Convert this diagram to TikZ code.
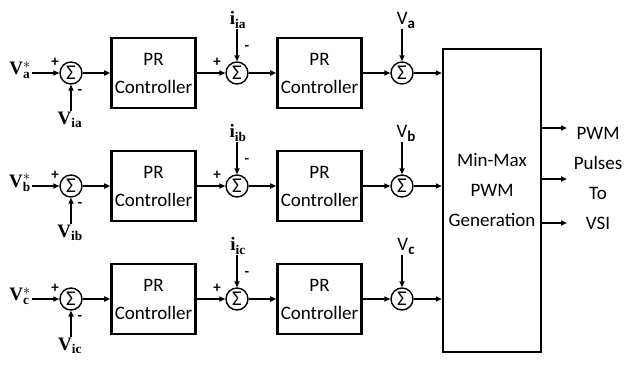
\documentclass[tikz,border=0pt]{standalone}
\usepackage{fontspec}
\setmainfont{Liberation Serif}
\newfontfamily\calib{Carlito}
\usetikzlibrary{arrows.meta}
\newcommand{\vsub}[1]{{\calib V\raisebox{-4pt}{\fontsize{15}{15}\selectfont\bfseries #1}}}

\begin{document}
\begin{tikzpicture}[x=1pt,y=-1pt,
  sum/.style={draw,circle,line width=1.4pt,minimum size=22pt,inner sep=0pt,font=\calib\fontsize{21}{21}\selectfont},
  pr/.style={draw,line width=2.4pt,minimum width=83pt,minimum height=70pt,align=center,font=\calib\fontsize{19}{28}\selectfont},
  mm/.style={draw,line width=2.4pt,minimum width=98pt,minimum height=303pt},
  txt/.style={align=center,font=\calib\fontsize{19}{30}\selectfont},
  sgn/.style={font=\calib\bfseries\fontsize{15}{15}\selectfont,inner sep=0pt},
  lbl/.style={font=\fontsize{19}{19}\selectfont,inner sep=1pt},
  arr/.style={-{Triangle[length=6pt,width=5pt]},line width=1.6pt}]
\useasboundingbox (0,0) rectangle (631,364);
% min-max block
\node[mm] (mm) at (492,200.5) {};
\node[txt] (mmt) at (492,190) {Min-Max\\PWM\\Generation};
% phase a
\node[lbl,anchor=east] (ra) at (32,70) {$\mathbf{V_{a}^{*}}$};
\node[sum] (sa1) at (71,73) {Σ};
\node[lbl] (fa1) at (70,120) {$\mathbf{V_{ia}}$};
\node[pr] (pa1) at (153.5,73) {PR\\Controller};
\node[sum] (sa2) at (237,73) {Σ};
\node[lbl] (fa2) at (238,20) {$\mathbf{i_{ia}}$};
\node[pr] (pa2) at (319.5,73) {PR\\Controller};
\node[sum] (sa3) at (402,73) {Σ};
\node[lbl] (va) at (406,20) {\vsub{a}};
\node[sgn] at (55,62) {+};
\node[sgn] at (80,92) {-};
\node[sgn] at (217,62) {+};
\node[sgn] at (247,48) {-};
\draw[arr] (ra.east |- sa1) -- (sa1);
\draw[arr] (sa1 |- fa1.north) -- (sa1.south);
\draw[arr] (sa1) -- (pa1);
\draw[arr] (pa1) -- (sa2);
\draw[arr] (sa2 |- fa2.south) -- (sa2.north);
\draw[arr] (sa2) -- (pa2);
\draw[arr] (pa2) -- (sa3);
\draw[arr] (sa3 |- va.south) -- (sa3.north);
\draw[arr] (sa3) -- (mm.west |- sa3);
% phase b
\node[lbl,anchor=east] (rb) at (32,183) {$\mathbf{V_{b}^{*}}$};
\node[sum] (sb1) at (71,186) {Σ};
\node[lbl] (fb1) at (70,233) {$\mathbf{V_{ib}}$};
\node[pr] (pb1) at (153.5,186) {PR\\Controller};
\node[sum] (sb2) at (237,186) {Σ};
\node[lbl] (fb2) at (238,133) {$\mathbf{i_{ib}}$};
\node[pr] (pb2) at (319.5,186) {PR\\Controller};
\node[sum] (sb3) at (402,186) {Σ};
\node[lbl] (vb) at (406,133) {\vsub{b}};
\node[sgn] at (55,175) {+};
\node[sgn] at (80,205) {-};
\node[sgn] at (217,175) {+};
\node[sgn] at (247,161) {-};
\draw[arr] (rb.east |- sb1) -- (sb1);
\draw[arr] (sb1 |- fb1.north) -- (sb1.south);
\draw[arr] (sb1) -- (pb1);
\draw[arr] (pb1) -- (sb2);
\draw[arr] (sb2 |- fb2.south) -- (sb2.north);
\draw[arr] (sb2) -- (pb2);
\draw[arr] (pb2) -- (sb3);
\draw[arr] (sb3 |- vb.south) -- (sb3.north);
\draw[arr] (sb3) -- (mm.west |- sb3);
% phase c
\node[lbl,anchor=east] (rc) at (32,296) {$\mathbf{V_{c}^{*}}$};
\node[sum] (sc1) at (71,299) {Σ};
\node[lbl] (fc1) at (70,346) {$\mathbf{V_{ic}}$};
\node[pr] (pc1) at (153.5,299) {PR\\Controller};
\node[sum] (sc2) at (237,299) {Σ};
\node[lbl] (fc2) at (238,246) {$\mathbf{i_{ic}}$};
\node[pr] (pc2) at (319.5,299) {PR\\Controller};
\node[sum] (sc3) at (402,299) {Σ};
\node[lbl] (vc) at (406,246) {\vsub{c}};
\node[sgn] at (55,288) {+};
\node[sgn] at (80,318) {-};
\node[sgn] at (217,288) {+};
\node[sgn] at (247,274) {-};
\draw[arr] (rc.east |- sc1) -- (sc1);
\draw[arr] (sc1 |- fc1.north) -- (sc1.south);
\draw[arr] (sc1) -- (pc1);
\draw[arr] (pc1) -- (sc2);
\draw[arr] (sc2 |- fc2.south) -- (sc2.north);
\draw[arr] (sc2) -- (pc2);
\draw[arr] (pc2) -- (sc3);
\draw[arr] (sc3 |- vc.south) -- (sc3.north);
\draw[arr] (sc3) -- (mm.west |- sc3);
% outputs
\node[txt] (vsi) at (598,178) {PWM\\Pulses\\To\\VSI};
\coordinate (o1) at (567,128);
\coordinate (o2) at (567,179);
\coordinate (o3) at (567,223);
\draw[arr] (mm.east |- o1) -- (o1);
\draw[arr] (mm.east |- o2) -- (o2);
\draw[arr] (mm.east |- o3) -- (o3);
\end{tikzpicture}
\end{document}
